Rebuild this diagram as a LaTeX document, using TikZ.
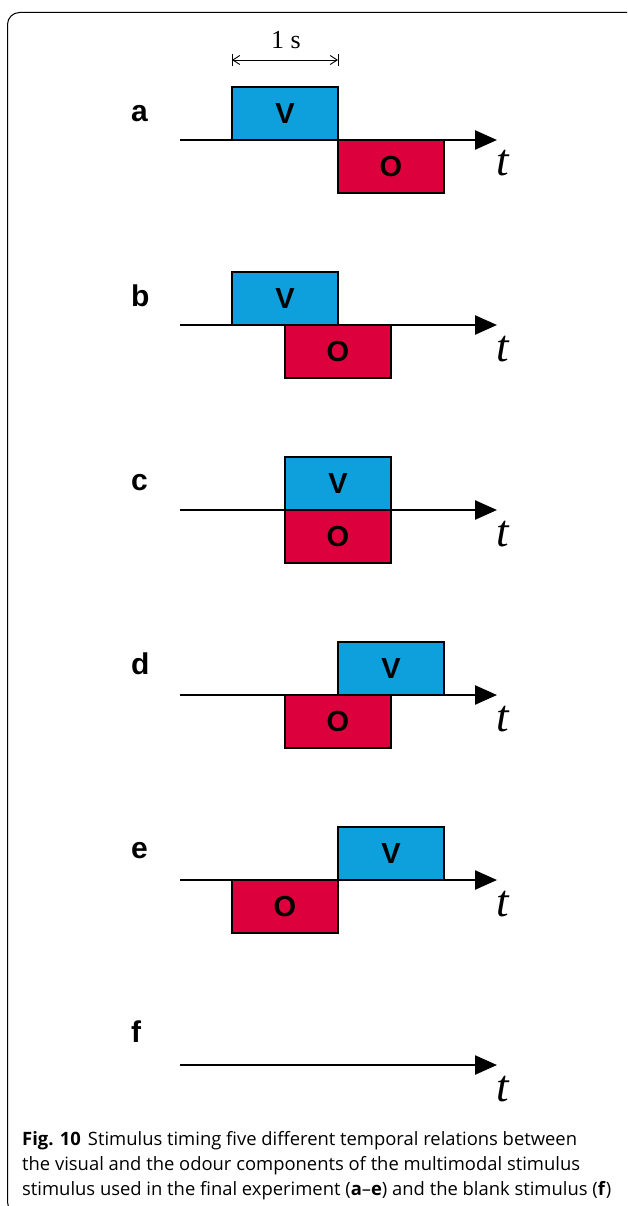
\documentclass[tikz,border=0pt]{standalone}
\usepackage{fontspec}
\setmainfont{Liberation Serif}
\newfontfamily\labfont{Liberation Sans}
\newfontfamily\capfont{Open Sans}
\usetikzlibrary{arrows.meta}
\definecolor{vblue}{RGB}{14,160,220}
\definecolor{ored}{RGB}{220,0,60}
\begin{document}
\begin{tikzpicture}[x=1pt,y=-1pt,
  vbox/.style={draw=black,line width=2pt,fill=vblue,minimum width=106pt,minimum height=53pt,inner sep=0pt,font=\labfont\bfseries\fontsize{29}{29}\selectfont},
  obox/.style={draw=black,line width=2pt,fill=ored,minimum width=106pt,minimum height=53pt,inner sep=0pt,font=\labfont\bfseries\fontsize{29}{29}\selectfont},
  axis/.style={line width=2.5pt,-{Triangle[length=22pt,width=19pt]}},
  panlab/.style={anchor=base west,inner sep=0pt,font=\labfont\bfseries\fontsize{30}{30}\selectfont},
  tlab/.style={anchor=base west,inner sep=0pt,font=\itshape\fontsize{45}{45}\selectfont},
  capline/.style={anchor=base west,inner sep=0pt,font=\capfont\fontsize{18.4}{18.4}\selectfont}]
\useasboundingbox (0,0) rectangle (627,1206);
\begin{scope}
\clip (0,0) rectangle (627,1206);
\draw[line width=1pt,rounded corners=12pt] (7.5,12.5) rectangle (700,1214);
\end{scope}
% dimension
\coordinate (d0) at (232,60);
\coordinate (d1) at (338,60);
\draw[line width=0.9pt] (232,54) -- (232,66) (338,54) -- (338,66);
\draw[line width=0.9pt,{Straight Barb[length=7pt,width=9pt]}-{Straight Barb[length=7pt,width=9pt]}] (d0) -- (d1);
\node[anchor=base,inner sep=0pt,font=\fontsize{26}{26}\selectfont] (ones) at (286,49) {1 s};
% panel a
\node[vbox] (va) at (285,113.5) {V};
\node[obox] (oa) at (391,166.5) {O};
\coordinate (a0) at (180,140); \coordinate (a1) at (497,140);
\draw[axis] (a0) -- (a1);
\node[panlab] (la) at (131,122) {a};
\node[tlab] (ta) at (496,176) {t};
% panel b
\node[vbox] (vb) at (285,298.5) {V};
\node[obox] (ob) at (338,351.5) {O};
\coordinate (b0) at (180,325); \coordinate (b1) at (497,325);
\draw[axis] (b0) -- (b1);
\node[panlab] (lb) at (131,306) {b};
\node[tlab] (tb) at (496,361) {t};
% panel c
\node[vbox] (vc) at (338,483.5) {V};
\node[obox] (oc) at (338,536.5) {O};
\coordinate (c0) at (180,510); \coordinate (c1) at (497,510);
\draw[axis] (c0) -- (c1);
\node[panlab] (lc) at (131,490) {c};
\node[tlab] (tc) at (496,546) {t};
% panel d
\node[vbox] (vd) at (391,668.5) {V};
\node[obox] (od) at (338,721.5) {O};
\coordinate (e0) at (180,695); \coordinate (e1) at (497,695);
\draw[axis] (e0) -- (e1);
\node[panlab] (ld) at (131,674) {d};
\node[tlab] (td) at (496,731) {t};
% panel e
\node[vbox] (ve) at (391,853.5) {V};
\node[obox] (oe) at (285,906.5) {O};
\coordinate (f0) at (180,880); \coordinate (f1) at (497,880);
\draw[axis] (f0) -- (f1);
\node[panlab] (le) at (131,858) {e};
\node[tlab] (te) at (496,916) {t};
% panel f
\coordinate (g0) at (180,1065); \coordinate (g1) at (497,1065);
\draw[axis] (g0) -- (g1);
\node[panlab] (lf) at (131,1042) {f};
\node[tlab] (tf) at (496,1101) {t};
% caption
\node[capline] (c1l) at (22,1145) {\textbf{Fig. 10}\hspace{7pt}Stimulus timing five different temporal relations between};
\node[capline] (c2l) at (22,1170) {the visual and the odour components of the multimodal stimulus};
\node[capline] (c3l) at (22,1195) {stimulus used in the final experiment (\textbf{a}–\textbf{e}) and the blank stimulus (\textbf{f})};
\end{tikzpicture}
\end{document}
